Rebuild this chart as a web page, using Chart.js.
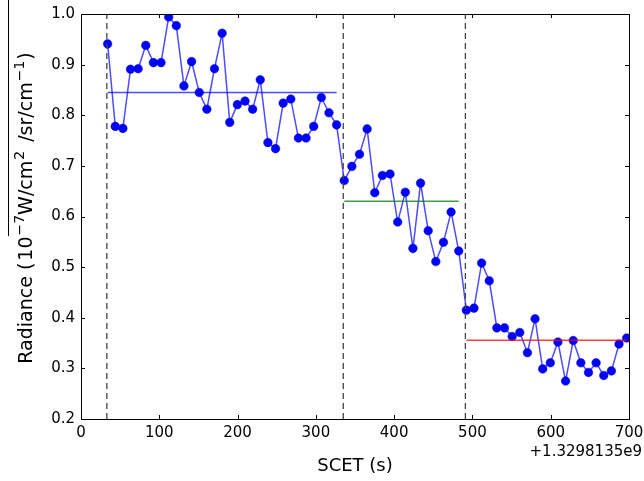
<!DOCTYPE html>
<html>
<head>
<meta charset="utf-8">
<script src="https://cdn.jsdelivr.net/npm/chart.js@4"></script>
<style>
  html, body { margin: 0; padding: 0; background: #fff; }
  #wrap { width: 644px; height: 481px; }
</style>
</head>
<body>
<div id="wrap"><canvas id="c" width="644" height="481"></canvas></div>
<script>
// sample times (s, offset from 1.3298135e9)
const times = [34, 43.75, 53.5, 63.25, 73, 82.75, 92.5, 102.25, 112, 121.75, 131.5, 141.25, 151, 160.75,
  170.5, 180.25, 190, 199.75, 209.5, 219.25, 229, 238.75, 248.5, 258.25, 268, 277.75, 287.5, 297.25,
  307, 316.75, 326.5, 336.25, 346, 355.75, 365.5, 375.25, 385, 394.75, 404.5, 414.25, 424, 433.75,
  443.5, 453.25, 463, 472.75, 482.5, 492.25, 502, 511.75, 521.5, 531.25, 541, 550.75, 560.5, 570.25,
  580, 589.75, 599.5, 609.25, 619, 628.75, 638.5, 648.25, 658, 667.75, 677.5, 687.25, 697];

const radiance = [0.941, 0.778, 0.774, 0.891, 0.892, 0.938, 0.904, 0.904, 0.994, 0.977, 0.858, 0.906,
  0.845, 0.812, 0.892, 0.962, 0.786, 0.821, 0.828, 0.812, 0.870, 0.746, 0.734, 0.824, 0.832, 0.755,
  0.755, 0.778, 0.835, 0.805, 0.781,
  0.671, 0.699, 0.723, 0.773, 0.647, 0.681, 0.684, 0.589, 0.648, 0.537, 0.666, 0.572, 0.511, 0.549,
  0.609, 0.532,
  0.415, 0.419, 0.508, 0.473, 0.380, 0.380, 0.363, 0.371, 0.331, 0.398, 0.299, 0.311, 0.352, 0.275,
  0.355, 0.311, 0.292, 0.311, 0.286, 0.295, 0.348, 0.360];

// segment boundaries and means
const dividers = [33, 335, 491];
const segStart = [34, 336.25, 492.25];
const segEnd = [326.5, 482.5, 697];
const segMean = [0.845, 0.630, 0.3555];
const segColor = ['rgba(0,0,255,0.7)', 'rgba(0,128,0,0.75)', 'rgba(255,0,0,0.75)'];

const xTicks = [0, 100, 200, 300, 400, 500, 600, 700];
const yTicks = [0.2, 0.3, 0.4, 0.5, 0.6, 0.7, 0.8, 0.9, 1.0];

const FONT = 'DejaVu Sans';

const datasets = [];
dividers.forEach(d => {
  datasets.push({
    type: 'line',
    data: [{ x: d, y: 0.2 }, { x: d, y: 1.0 }],
    borderColor: '#444',
    borderWidth: 1.3,
    borderDash: [6, 4],
    pointRadius: 0,
    fill: false,
  });
});
segMean.forEach((m, i) => {
  datasets.push({
    type: 'line',
    data: [{ x: segStart[i], y: m }, { x: segEnd[i], y: m }],
    borderColor: segColor[i],
    borderWidth: 1.5,
    pointRadius: 0,
    fill: false,
  });
});
datasets.push({
  type: 'line',
  data: times.map((t, i) => ({ x: t, y: radiance[i] })),
  borderColor: 'rgba(0,0,255,0.7)',
  borderWidth: 1.5,
  pointRadius: 4.3,
  pointBackgroundColor: '#0000ff',
  pointBorderColor: '#0000cc',
  pointBorderWidth: 0.5,
  tension: 0,
  fill: false,
});

// frame, inward ticks, axis titles
const decor = {
  id: 'decor',
  afterDraw(chart) {
    const { ctx, chartArea: a, scales } = chart;
    ctx.save();
    ctx.strokeStyle = '#000';
    ctx.lineWidth = 1;
    ctx.strokeRect(a.left + 0.5, a.top + 0.5, a.right - a.left, a.bottom - a.top);
    ctx.beginPath();
    xTicks.forEach(v => {
      const px = Math.round(scales.x.getPixelForValue(v)) + 0.5;
      ctx.moveTo(px, a.bottom); ctx.lineTo(px, a.bottom - 4);
      ctx.moveTo(px, a.top); ctx.lineTo(px, a.top + 4);
    });
    yTicks.forEach(v => {
      const py = Math.round(scales.y.getPixelForValue(v)) + 0.5;
      ctx.moveTo(a.left, py); ctx.lineTo(a.left + 4, py);
      ctx.moveTo(a.right, py); ctx.lineTo(a.right - 4, py);
    });
    ctx.stroke();

    ctx.fillStyle = '#000';
    ctx.font = '18px "' + FONT + '"';
    ctx.textAlign = 'center';
    ctx.textBaseline = 'middle';
    ctx.fillText('SCET (s)', (a.left + a.right) / 2, 466);
    ctx.font = '15px "' + FONT + '"';
    ctx.textAlign = 'right';
    ctx.fillText('+1.3298135e9', 642, 452);

    // y title with superscripts
    const parts = [
      ['Radiance (', false, 0], ['10', false, 2], ['\u22127', true, 1], ['W/cm', false, 0], ['2', true, 1],
      [' /sr/cm', false, 3], ['\u22121', true, 1], [')', false, 1],
    ];
    const fN = '19px "' + FONT + '"', fS = '14px "' + FONT + '"';
    let total = 0;
    parts.forEach(p => { ctx.font = p[1] ? fS : fN; total += ctx.measureText(p[0]).width + p[2]; });
    ctx.translate(32, 208);
    ctx.rotate(-Math.PI / 2);
    ctx.textAlign = 'left';
    ctx.textBaseline = 'alphabetic';
    let x = -total / 2;
    parts.forEach(p => {
      ctx.font = p[1] ? fS : fN;
      x += p[2];
      ctx.fillText(p[0], x, p[1] ? -8 : 0);
      x += ctx.measureText(p[0]).width;
    });
    ctx.restore();

    // fraction bar left by mathtext
    ctx.save();
    ctx.strokeStyle = '#000';
    ctx.lineWidth = 1;
    ctx.beginPath();
    ctx.moveTo(8.5, 0); ctx.lineTo(8.5, 236);
    ctx.stroke();
    ctx.restore();
  },
};

new Chart(document.getElementById('c'), {
  type: 'line',
  data: { datasets },
  options: {
    responsive: false,
    animation: false,
    layout: { padding: { left: 0, right: 15, top: 14, bottom: 0 } },
    plugins: { legend: { display: false }, tooltip: { enabled: false } },
    scales: {
      x: {
        type: 'linear',
        min: 0, max: 700,
        afterBuildTicks: s => { s.ticks = xTicks.map(v => ({ value: v })); },
        afterFit: s => { s.height = 62; s.paddingLeft = 0; s.paddingRight = 0; },
        grid: { display: false, drawTicks: false },
        border: { display: false },
        ticks: { color: '#000', font: { family: FONT, size: 15 }, padding: 5, maxRotation: 0 },
      },
      y: {
        type: 'linear',
        min: 0.2, max: 1.0,
        afterBuildTicks: s => { s.ticks = yTicks.map(v => ({ value: v })); },
        afterFit: s => { s.width = 81; s.paddingTop = 0; s.paddingBottom = 0; },
        grid: { display: false, drawTicks: false },
        border: { display: false },
        ticks: { color: '#000', font: { family: FONT, size: 15 }, padding: 6,
          callback: v => v.toFixed(1) },
      },
    },
  },
  plugins: [decor],
});
</script>
</body>
</html>
